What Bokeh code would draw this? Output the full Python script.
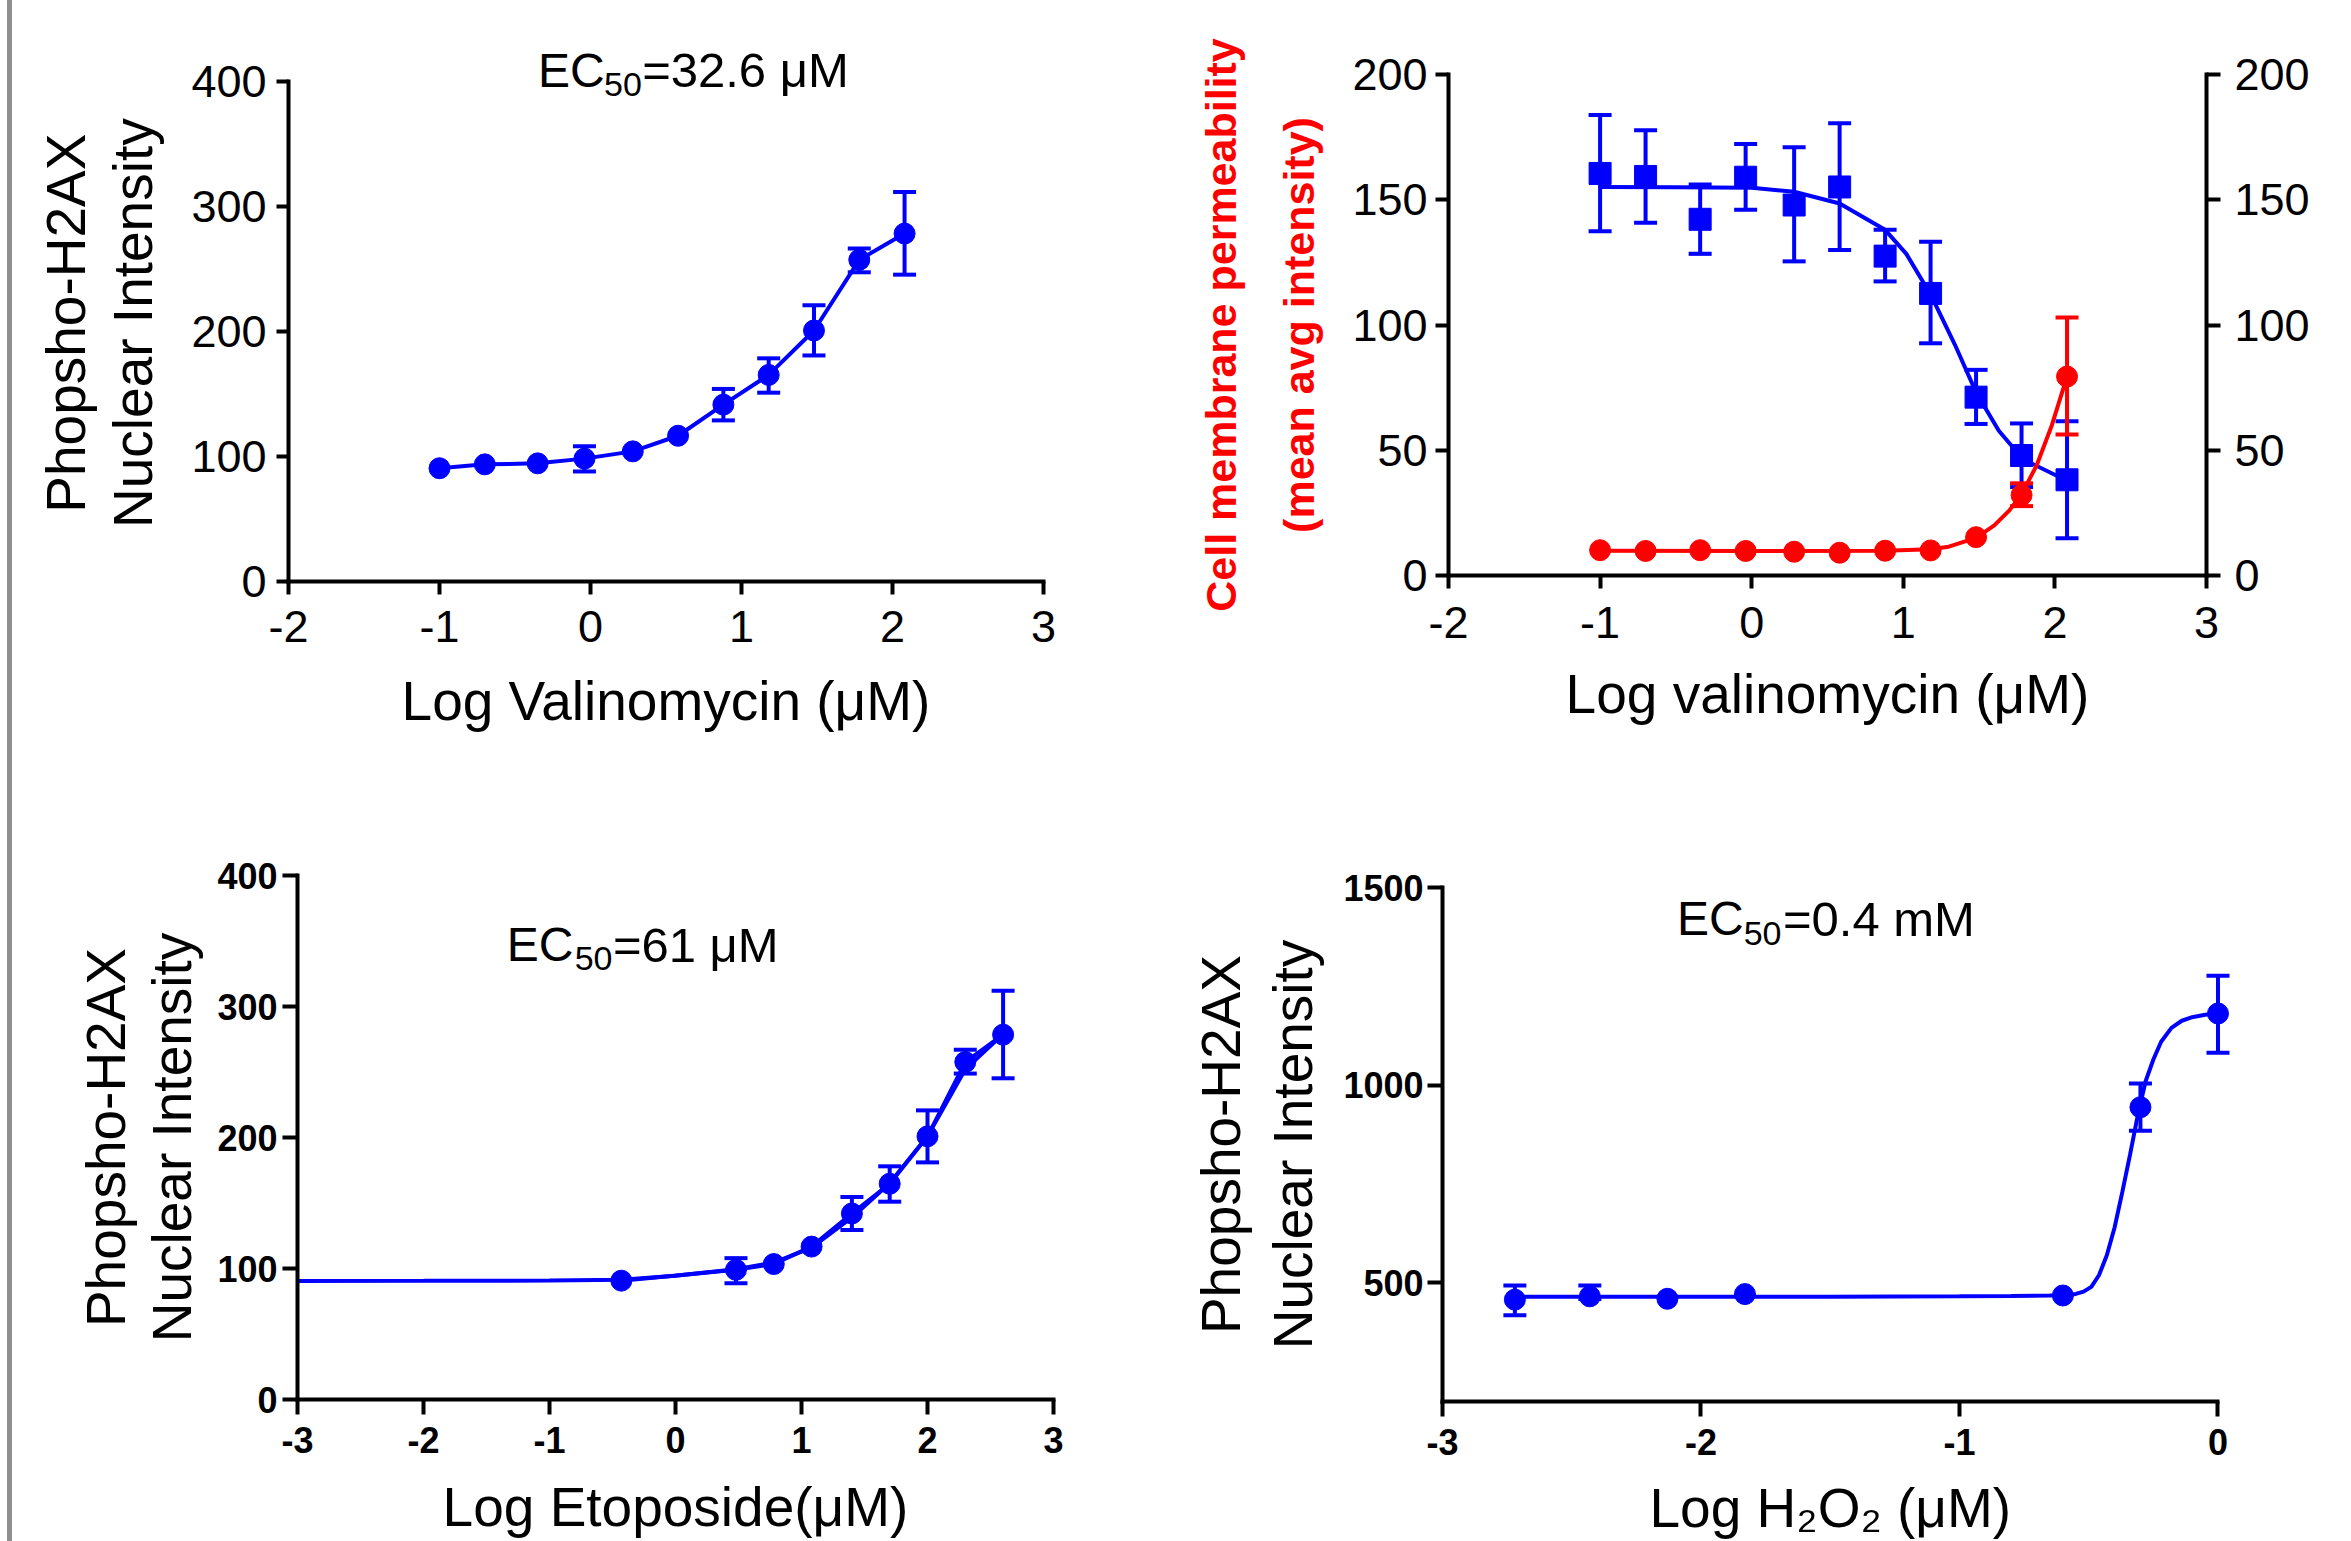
from bokeh.plotting import figure
from bokeh.models import (Range1d, LinearAxis, Label, Whisker, TeeHead,
                          ColumnDataSource, FixedTicker, Spacer)
from bokeh.layouts import row, column
from bokeh.embed import file_html
from bokeh.resources import INLINE

# ---------------- data ----------------
# Panel A: Log Valinomycin vs Phopsho-H2AX nuclear intensity
a_x = [-1.00, -0.70, -0.35, -0.04, 0.28, 0.58, 0.88, 1.18, 1.48, 1.78, 2.08]
a_y = [90.7, 93.8, 94.6, 98.4, 104.2, 116.7, 141.6, 165.4, 201.0, 257.6, 278.6]
a_hi = [None, None, None, 108.3, None, None, 154.2, 178.7, 221.2, 266.7, 311.9]
a_lo = [None, None, None, 88.1, None, None, 129.0, 151.2, 181.0, 247.6, 245.7]

# Panel B: Log valinomycin, two series (squares blue, circles red)
b_x = [-1.00, -0.70, -0.34, -0.04, 0.28, 0.58, 0.88, 1.18, 1.48, 1.78, 2.08]
b_sq_y = [160.5, 159.3, 142.2, 159.0, 147.9, 155.1, 127.5, 112.6, 71.2, 47.9, 38.2]
b_sq_hi = [183.8, 177.7, 156.1, 172.3, 171.0, 180.5, 138.0, 133.2, 82.1, 60.7, 61.6]
b_sq_lo = [137.4, 140.8, 128.4, 146.0, 125.4, 129.9, 117.4, 92.7, 60.5, 35.3, 14.9]
b_ci_y = [10.1, 9.8, 10.1, 9.8, 9.5, 9.1, 9.9, 10.0, 15.3, 32.1, 79.4]
b_ci_hi = [None, None, None, None, None, None, None, None, None, 36.8, 103.0]
b_ci_lo = [None, None, None, None, None, None, None, None, None, 27.7, 56.3]
b_sqfit_x = [-1.00, -0.50, 0.00, 0.28, 0.58, 0.88, 1.02, 1.18, 1.34, 1.48, 1.63, 1.79, 2.08]
b_sqfit_y = [155.1, 155.0, 154.8, 153.2, 148.5, 138.0, 128.4, 112.2, 92.2, 73.1, 57.8, 46.4, 37.8]
b_cifit_x = [-1.00, 0.00, 0.88, 1.18, 1.30, 1.48, 1.60, 1.70, 1.78, 1.88, 1.98, 2.08]
b_cifit_y = [9.9, 9.8, 9.9, 10.5, 11.5, 15.0, 20.0, 26.0, 32.5, 44.0, 60.0, 79.4]

# Panel C: Log Etoposide
c_x = [-0.43, 0.48, 0.78, 1.08, 1.40, 1.70, 2.00, 2.30, 2.60]
c_y = [90.7, 99.0, 103.4, 116.7, 142.0, 164.7, 200.9, 257.6, 278.5]
c_hi = [None, 107.9, None, None, 154.6, 178.0, 220.7, 267.0, 312.0]
c_lo = [None, 88.8, None, None, 129.4, 151.0, 181.0, 248.8, 245.2]
c_fit_x = [-3.00, -2.00, -1.00, -0.43, 0.00, 0.48, 0.78, 1.08, 1.40, 1.70, 2.00, 2.30, 2.60]
c_fit_y = [90.5, 90.6, 90.8, 91.5, 94.5, 99.5, 104.5, 116.0, 139.0, 165.0, 201.0, 252.0, 279.0]

# Panel D: Log H2O2
d_x = [-2.72, -2.43, -2.13, -1.83, -0.60, -0.30, 0.00]
d_y = [457.6, 465.9, 459.8, 471.7, 468.1, 944.3, 1181.3]
d_hi = [493.4, 493.4, None, None, None, 1004.3, 1277.0]
d_lo = [418.0, 459.0, None, None, None, 884.8, 1082.0]
d_fit_x = [-2.72, -2.00, -1.50, -1.00, -0.80, -0.65, -0.60, -0.55, -0.52, -0.49, -0.46,
           -0.43, -0.40, -0.37, -0.34, -0.31, -0.28, -0.25, -0.22, -0.18, -0.14, -0.10,
           -0.05, 0.00]
d_fit_y = [465, 465, 465, 466, 467, 468, 469, 472, 478, 490, 520,
           570, 640, 730, 825, 925, 1010, 1065, 1110, 1145, 1163, 1172,
           1178, 1181]

# tick values
a_xticks = [-2, -1, 0, 1, 2, 3]
a_yticks = [0, 100, 200, 300, 400]
b_xticks = [-2, -1, 0, 1, 2, 3]
b_yticks = [0, 50, 100, 150, 200]
c_xticks = [-3, -2, -1, 0, 1, 2, 3]
c_yticks = [0, 100, 200, 300, 400]
d_xticks = [-3, -2, -1, 0]
d_yticks = [500, 1000, 1500]

# texts
ylab_h2ax = "Phopsho-H2AX\nNuclear Intensity"
a_ylab = "Phopsho-H2AX \nNuclear Intensity "
a_xlab = "Log Valinomycin (\u03bcM)"
b_xlab = "Log valinomycin (\u03bcM)"
b_ylab = "Cell membrane permeability\n(mean avg intensity)"
c_xlab = "Log Etoposide(\u03bcM)"
d_xlab = "Log H\u2082O\u2082 (\u03bcM) "
a_ec = ("EC", "50", "=32.6 \u03bcM")
c_ec = ("EC", "50", "=61 \u03bcM")
d_ec = ("EC", "50", "=0.4 mM")

BLUE = "#0000FF"
RED = "#FF0000"
FONT = "Liberation Sans"


def make_fig(width, height, left, right, top, bottom, xr, yr):
    p = figure(width=width, height=height, x_range=Range1d(*xr), y_range=Range1d(*yr),
               output_backend="svg", toolbar_location=None,
               min_border_left=left, min_border_right=right,
               min_border_top=top, min_border_bottom=bottom)
    p.xgrid.visible = False
    p.ygrid.visible = False
    p.outline_line_color = None
    p.background_fill_color = "white"
    p.border_fill_color = "white"
    return p


def style_axis(ax, ticks, size, bold, tick_out, standoff, label=None, label_size=55,
               label_standoff=20, label_color="black", label_bold=False, line_height=1.1):
    ax.ticker = FixedTicker(ticks=ticks)
    ax.major_label_overrides = {t: str(t) for t in ticks}
    ax.axis_line_width = 4
    ax.axis_line_color = "black"
    ax.axis_line_cap = "square"
    ax.major_tick_line_width = 4
    ax.major_tick_line_color = "black"
    ax.major_tick_out = tick_out
    ax.major_tick_in = 0
    ax.minor_tick_line_color = None
    ax.major_label_text_font = FONT
    ax.major_label_text_font_size = f"{size}px"
    ax.major_label_text_font_style = "bold" if bold else "normal"
    ax.major_label_text_color = "black"
    ax.major_label_standoff = standoff
    if label is not None:
        ax.axis_label = label
        ax.axis_label_text_font = FONT
        ax.axis_label_text_font_size = f"{label_size}px"
        ax.axis_label_text_font_style = "bold" if label_bold else "normal"
        ax.axis_label_text_color = label_color
        ax.axis_label_standoff = label_standoff
        ax.axis_label_text_line_height = line_height


def add_err(p, x, hi, lo, color):
    xs, his, los = [], [], []
    for xi, h, l in zip(x, hi, lo):
        if h is not None:
            xs.append(xi)
            his.append(h)
            los.append(l)
    src = ColumnDataSource(dict(x=xs, upper=his, lower=los))
    w = Whisker(source=src, base="x", upper="upper", lower="lower",
                line_color=color, line_width=4,
                upper_head=TeeHead(size=23, line_color=color, line_width=4),
                lower_head=TeeHead(size=23, line_color=color, line_width=4))
    p.add_layout(w)


def add_ec(p, parts, pos_main, pos_sub, pos_rest):
    # positions are the vertical middles of the text pieces
    p.add_layout(Label(x=pos_main[0], y=pos_main[1], text=parts[0], text_font=FONT,
                       text_font_size="48px", text_color="black", text_baseline="middle"))
    p.add_layout(Label(x=pos_sub[0], y=pos_sub[1], text=parts[1], text_font=FONT,
                       text_font_size="34px", text_color="black", text_baseline="middle"))
    p.add_layout(Label(x=pos_rest[0], y=pos_rest[1], text=parts[2], text_font=FONT,
                       text_font_size="49px", text_color="black", text_baseline="middle"))


# ---------------- Panel A ----------------
pA = make_fig(1088, 791, 276, 57, 49, 210, (-2, 3), (0, 426))
style_axis(pA.xaxis[0], a_xticks, 45, False, 13, 16, a_xlab, 55, 25)
style_axis(pA.yaxis[0], a_yticks, 45, False, 12, 10, a_ylab, 55, 24, line_height=1.09)
pA.yaxis[0].bounds = (0, 400)
pA.line(a_x, a_y, line_color=BLUE, line_width=4)
add_err(pA, a_x, a_hi, a_lo, BLUE)
pA.scatter(a_x, a_y, marker="circle", size=21, fill_color=BLUE, line_color=BLUE)
add_ec(pA, a_ec, (-0.348, 409.5), (0.090, 398.0), (0.342, 409.5))

# ---------------- Panel B ----------------
pB = make_fig(1251, 791, 348, 145, 74, 216, (-2, 3), (0, 200))
pB.extra_y_ranges = {"right": Range1d(0, 200)}
style_axis(pB.xaxis[0], b_xticks, 45, False, 13, 18, b_xlab, 55, 22)
style_axis(pB.yaxis[0], b_yticks, 45, False, 13, 8, b_ylab, 43, 26,
           label_color=RED, label_bold=True, line_height=1.64)
rax = LinearAxis(y_range_name="right")
pB.add_layout(rax, "right")
style_axis(rax, b_yticks, 45, False, 14, 14)
pB.line(b_sqfit_x, b_sqfit_y, line_color=BLUE, line_width=4)
pB.line(b_cifit_x, b_cifit_y, line_color=RED, line_width=4)
add_err(pB, b_x, b_sq_hi, b_sq_lo, BLUE)
add_err(pB, b_x, b_ci_hi, b_ci_lo, RED)
pB.scatter(b_x, b_ci_y, marker="circle", size=21, fill_color=RED, line_color=RED)
pB.scatter(b_x, b_sq_y, marker="square", size=22, fill_color=BLUE, line_color=BLUE)

# ---------------- Panel C ----------------
pC = make_fig(1088, 750, 285, 47, 84, 142, (-3, 3), (0, 400))
style_axis(pC.xaxis[0], c_xticks, 36, True, 15, 12, c_xlab, 55, 20)
style_axis(pC.yaxis[0], c_yticks, 36, True, 15, 5, ylab_h2ax, 55, 11, line_height=1.065)
pC.line(c_fit_x, c_fit_y, line_color=BLUE, line_width=4)
pC.line(c_x, c_y, line_color=BLUE, line_width=4)
add_err(pC, c_x, c_hi, c_lo, BLUE)
pC.scatter(c_x, c_y, marker="circle", size=21, fill_color=BLUE, line_color=BLUE)
add_ec(pC, c_ec, (-1.339, 347.1), (-0.800, 336.7), (-0.497, 347.1))

# ---------------- Panel D ----------------
pD = make_fig(1251, 750, 342, 118, 96, 140, (-3, 0.06), (200, 1500))
style_axis(pD.xaxis[0], d_xticks, 36, True, 15, 12, d_xlab, 55, 19)
style_axis(pD.yaxis[0], d_yticks, 36, True, 15, 4, ylab_h2ax, 55, 16, line_height=1.17)
pD.xaxis[0].bounds = (-3, 0)
pD.line(d_fit_x, d_fit_y, line_color=BLUE, line_width=4)
add_err(pD, d_x, d_hi, d_lo, BLUE)
pD.scatter(d_x, d_y, marker="circle", size=21, fill_color=BLUE, line_color=BLUE)
add_ec(pD, d_ec, (-2.093, 1421.4), (-1.835, 1384.2), (-1.683, 1421.4))

# each plot wrapped on its own so that row siblings do not align their frames
gap = Spacer(width=7, height=1541)
edge = Spacer(width=5, height=1541, styles={"background-color": "#909090"})
top_row = row(column(pA), column(pB))
bottom_row = row(column(pC), column(pD))
layout = row(gap, edge, column(top_row, bottom_row))

open("out.html", "w").write(file_html(layout, INLINE))
